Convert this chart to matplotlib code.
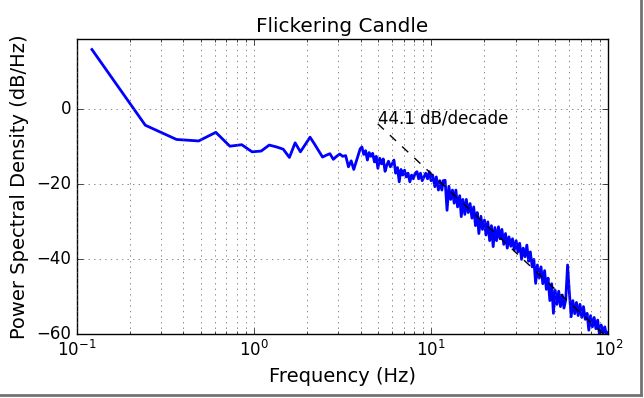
import matplotlib
matplotlib.use("Agg")
import matplotlib.pyplot as plt
from matplotlib.lines import Line2D
import numpy as np

plt.style.use('classic')
plt.rcParams['mathtext.fontset'] = 'dejavusans'
plt.rcParams['figure.facecolor'] = 'white'
plt.rcParams['savefig.facecolor'] = 'white'

# low frequency bins (0.122 Hz spacing)
freq_low = [0.122, 0.244, 0.366, 0.488, 0.610, 0.732, 0.854, 0.977, 1.099, 1.221,
            1.343, 1.465, 1.587, 1.709, 1.831, 1.953, 2.075, 2.197, 2.319, 2.441,
            2.563, 2.686, 2.808, 2.930, 3.052, 3.174, 3.296, 3.418, 3.540, 3.662]
psd_low = [16.0, -4.2, -8.0, -8.4, -6.1, -9.8, -9.4, -11.3, -11.1, -9.5,
           -10.0, -10.6, -12.8, -8.9, -11.3, -9.3, -7.4, -9.2, -11.0, -12.7,
           -12.2, -11.8, -13.3, -12.5, -11.9, -12.5, -12.3, -15.3, -13.7, -16.0]

# 4 - 10 Hz
freq_mid = [3.98, 4.07, 4.17, 4.27, 4.37, 4.47, 4.57, 4.68, 4.79, 4.90,
            5.01, 5.13, 5.25, 5.37, 5.50, 5.62, 5.75, 5.89, 6.03, 6.17,
            6.31, 6.46, 6.61, 6.76, 6.92, 7.08, 7.24, 7.41, 7.59, 7.76,
            7.94, 8.13, 8.32, 8.51, 8.71, 8.91, 9.12, 9.33, 9.55, 9.77]
psd_mid = [-10.5, -10.0, -12.0, -11.0, -13.5, -11.5, -12.5, -11.7, -14.0, -12.5,
           -15.7, -13.0, -14.5, -13.2, -16.5, -14.9, -13.8, -15.3, -14.5, -13.5,
           -17.0, -15.5, -19.3, -16.0, -17.5, -16.2, -18.0, -17.0, -19.3, -17.5,
           -18.5, -17.0, -16.6, -18.5, -17.0, -19.0, -18.0, -17.0, -18.5, -16.6]

# 10 - 100 Hz, the noisy band
freq_high = [10.0, 10.2, 10.5, 10.7, 11.0, 11.2, 11.5, 11.7, 12.0, 12.3,
             12.6, 12.9, 13.2, 13.5, 13.8, 14.1, 14.5, 14.8, 15.1, 15.5,
             15.8, 16.2, 16.6, 17.0, 17.4, 17.8, 18.2, 18.6, 19.1, 19.5,
             20.0, 20.4, 20.9, 21.4, 21.9, 22.4, 22.9, 23.4, 24.0, 24.5,
             25.1, 25.7, 26.3, 26.9, 27.5, 28.2, 28.8, 29.5, 30.2, 30.9,
             31.6, 32.4, 33.1, 33.9, 34.7, 35.5, 36.3, 37.2, 38.0, 38.9,
             39.8, 40.7, 41.7, 42.7, 43.7, 44.7, 45.7, 46.8, 47.9, 49.0,
             50.1, 51.3, 52.5, 53.7, 55.0, 56.2, 57.5, 58.9, 60.3, 61.7,
             63.1, 64.6, 66.1, 67.6, 69.2, 70.8, 72.4, 74.1, 75.9, 77.6,
             79.4, 81.3, 83.2, 85.1, 87.1, 89.1, 91.2, 93.3, 95.5, 97.7,
             100.0]
psd_high = [-19.0, -17.5, -20.6, -18.0, -21.5, -19.0, -21.5, -19.0, -18.9, -26.9,
            -20.5, -24.0, -21.5, -25.0, -21.5, -26.0, -23.0, -28.6, -24.0, -28.0,
            -24.0, -27.5, -25.1, -29.0, -26.0, -31.0, -27.5, -33.1, -28.5, -32.0,
            -29.5, -33.5, -30.0, -35.0, -31.0, -36.6, -31.5, -35.0, -31.3, -34.5,
            -32.0, -36.0, -33.1, -37.0, -34.0, -36.5, -34.5, -37.5, -35.0, -38.0,
            -35.7, -40.0, -37.0, -39.3, -36.2, -40.5, -38.0, -42.0, -40.0, -46.4,
            -41.5, -45.0, -42.0, -46.5, -43.0, -48.0, -45.0, -51.0, -46.5, -54.4,
            -48.2, -52.0, -48.5, -52.6, -49.5, -53.0, -50.8, -41.5, -49.0, -55.3,
            -51.0, -54.5, -51.5, -55.0, -52.0, -55.5, -52.6, -56.0, -54.4, -58.9,
            -55.0, -58.0, -55.5, -58.5, -56.2, -60.0, -57.5, -59.7, -58.0, -60.5,
            -59.5]

slope = 44.1          # dB/decade
fit_freq = [5.0, 100.0]
fit_offset = 27.0     # dB at 1 Hz

freq = freq_low + freq_mid + freq_high
psd = psd_low + psd_mid + psd_high

fig = plt.figure(figsize=(6.44, 3.98), dpi=100)
ax = fig.add_subplot(111)
fig.subplots_adjust(left=0.119, right=0.9446, bottom=0.160, top=0.901)

ax.semilogx(freq, psd, 'b-', lw=2)
ff = np.array(fit_freq)
ax.semilogx(ff, fit_offset - slope * np.log10(ff), 'k--', lw=1)
ax.text(5.0, -3.8, '%.1f dB/decade' % slope, fontsize=12)

ax.set_xlim(0.1, 100)
ax.set_ylim(-60, 18.7)
ax.set_yticks([-60, -40, -20, 0])
ax.grid(True, which='both', color='0.35', linestyle=':')
ax.set_title('Flickering Candle', fontsize=14.4)
ax.set_xlabel('Frequency (Hz)', fontsize=14)
ax.set_ylabel('Power Spectral Density (dB/Hz)', fontsize=14)

# drop shadow of the screenshot frame
fig.add_artist(Line2D([0.995, 0.995], [0.008, 1.0], transform=fig.transFigure,
                      color='0.45', lw=2))
fig.add_artist(Line2D([0.0, 0.995], [0.008, 0.008], transform=fig.transFigure,
                      color='0.45', lw=2))

fig.savefig('out.png', dpi=100)
